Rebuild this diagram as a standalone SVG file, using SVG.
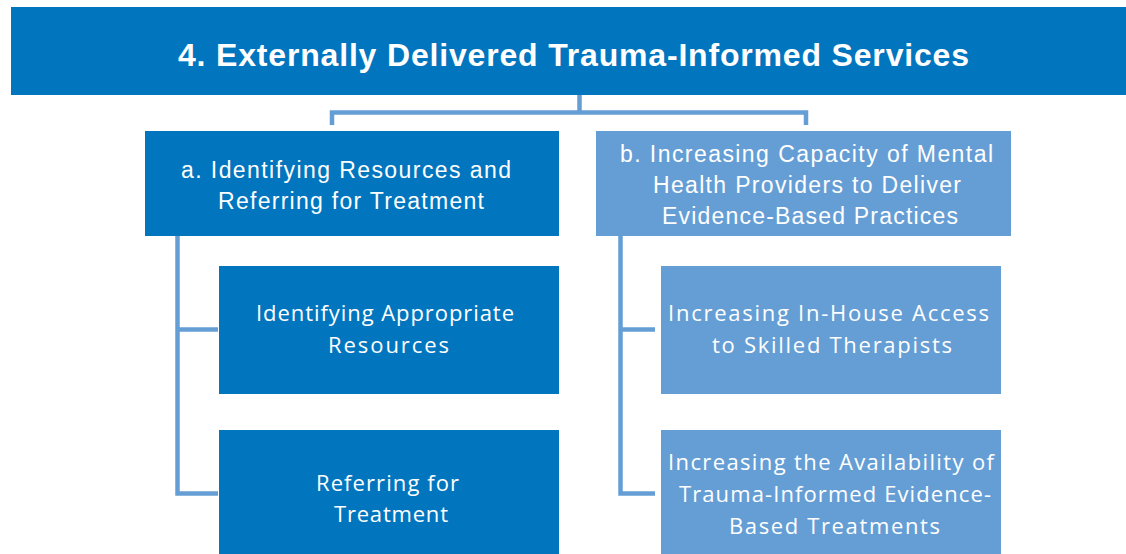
<svg xmlns="http://www.w3.org/2000/svg" width="1126" height="554" viewBox="0 0 1126 554">
<style>
.dark{fill:#0176BF}
.light{fill:#659ED5}
.conn{fill:none;stroke:#659ED5;stroke-width:4.5;stroke-linejoin:miter;stroke-linecap:butt}
.title{font-family:"Liberation Sans",Arial,sans-serif;font-weight:bold;font-size:32px;fill:#fff}
.lbl{font-family:"Liberation Sans",Arial,sans-serif;font-size:23px;fill:#fff}
.sub{font-family:"Open Sans","Liberation Sans",Arial,sans-serif;font-size:22px;fill:#fff}
</style>
<rect width="1126" height="554" fill="#fff"/>
<g id="connectors">
<path class="conn" d="M579.5 95 V112.5 M332 125 V112.5 H806 V125"/>
<path class="conn" d="M177.5 236 V493.5 H218 M177.5 329.5 H218"/>
<path class="conn" d="M620.5 236 V493.5 H655 M620.5 329.5 H655"/>
</g>
<g id="title">
<rect class="dark" x="11" y="7" width="1115" height="88"/>
<text class="title" x="178" y="66" textLength="791">4. Externally Delivered Trauma-Informed Services</text>
</g>
<g id="node-a">
<rect class="dark" x="145" y="131" width="414" height="105"/>
<text class="lbl" x="181" y="178" textLength="330">a. Identifying Resources and</text>
<text class="lbl" x="218" y="209" textLength="266">Referring for Treatment</text>
</g>
<g id="node-b">
<rect class="light" x="596" y="131" width="415" height="105"/>
<text class="lbl" x="620" y="162" textLength="373">b. Increasing Capacity of Mental</text>
<text class="lbl" x="653" y="193" textLength="308">Health Providers to Deliver</text>
<text class="lbl" x="662" y="224" textLength="296">Evidence-Based Practices</text>
</g>
<g id="node-a1">
<rect class="dark" x="219" y="266" width="340" height="128"/>
<text class="sub" x="256" y="321" textLength="258">Identifying Appropriate</text>
<text class="sub" x="328" y="353" textLength="121">Resources</text>
</g>
<g id="node-a2">
<rect class="dark" x="219" y="430" width="340" height="124"/>
<text class="sub" x="316" y="491" textLength="143">Referring for</text>
<text class="sub" x="334" y="522" textLength="114">Treatment</text>
</g>
<g id="node-b1">
<rect class="light" x="661" y="266" width="340" height="128"/>
<text class="sub" x="668" y="321" textLength="321">Increasing In-House Access</text>
<text class="sub" x="712" y="353" textLength="240">to Skilled Therapists</text>
</g>
<g id="node-b2">
<rect class="light" x="661" y="430" width="340" height="124"/>
<text class="sub" x="668" y="470" textLength="326">Increasing the Availability of</text>
<text class="sub" x="679" y="502" textLength="312">Trauma-Informed Evidence-</text>
<text class="sub" x="729" y="534" textLength="211">Based Treatments</text>
</g>
</svg>
